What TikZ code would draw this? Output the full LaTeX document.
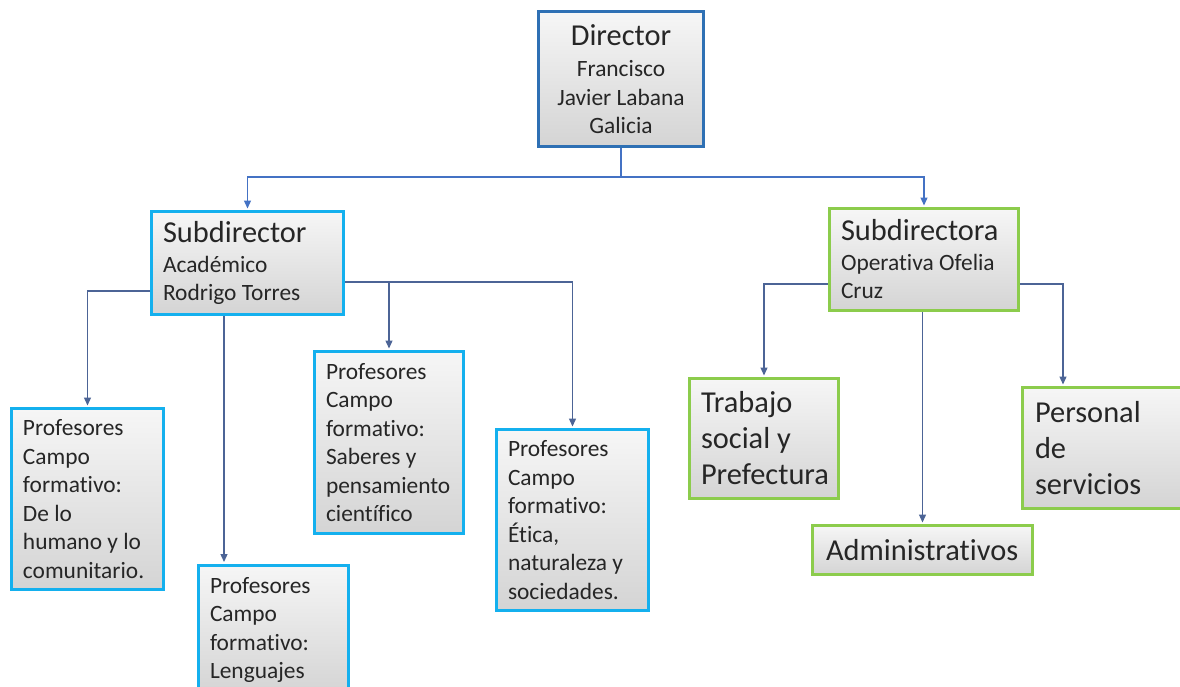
\documentclass[tikz,border=0pt]{standalone}
\usepackage{fontspec}
\setmainfont{Carlito}[Ligatures=NoCommon]
\usetikzlibrary{arrows.meta,shadows}

\definecolor{dirblue}{RGB}{46,112,180}
\definecolor{acadcyan}{RGB}{20,176,238}
\definecolor{opgreen}{RGB}{140,204,76}
\definecolor{boxtop}{RGB}{246,246,246}
\definecolor{boxbot}{RGB}{212,212,212}
\definecolor{linkblue}{RGB}{68,114,196}
\definecolor{linkslate}{RGB}{76,100,150}

\newcommand{\txtsmall}{\fontsize{23.4}{28.5}\selectfont}
\newcommand{\txtbig}{\fontsize{30.4}{36}\selectfont}

\begin{document}
\begin{tikzpicture}[x=1pt,y=-1pt,
  box/.style={draw,line width=3pt,top color=boxtop,bottom color=boxbot,
    text=black!85,inner sep=0pt,align=flush left,
    drop shadow={shadow xshift=1.5pt,shadow yshift=-1.5pt,opacity=0.2}},
  acad/.style={box,draw=acadcyan,font=\txtsmall},
  oper/.style={box,draw=opgreen,font=\txtbig},
  link/.style={line width=1.3pt,shorten >=1.5pt,-{Triangle[length=8pt,width=7pt]}}]

  \path[use as bounding box,clip] (0,0) rectangle (1180,686);
  \fill[white] (0,0) rectangle (1180,686);

  \node[box,draw=dirblue,align=flush center,font=\txtsmall,minimum width=165pt,minimum height=135pt] (dir) at (621,79)
    {{\txtbig Director}\\[3pt] Francisco\\ Javier Labana\\ Galicia};

  \node[acad,text width=169pt,minimum width=192pt,minimum height=103pt] (sa) at (247.5,263)
    {{\txtbig Subdirector}\\[1pt] Académico\\ Rodrigo Torres};
  \node[box,draw=opgreen,font=\txtsmall,text width=166pt,minimum width=189pt,minimum height=102pt] (so) at (924,259.5)
    {{\txtbig Subdirectora}\\[1pt] Operativa Ofelia\\ Cruz};

  \node[acad,text width=129pt,minimum width=152pt,minimum height=181pt] (p1) at (87.5,499)
    {Profesores\\ Campo\\ formativo:\\ De lo\\ humano y lo\\ comunitario.};
  \node[acad,text width=127pt,minimum width=150pt,inner ysep=12pt,anchor=north] (p2) at (273.5,563.5)
    {Profesores\\ Campo\\ formativo:\\ Lenguajes};
  \node[acad,text width=126pt,minimum width=149pt,minimum height=182pt] (p3) at (389,442.5)
    {Profesores\\ Campo\\ formativo:\\ Saberes y\\ pensamiento\\ científico};
  \node[acad,text width=129pt,minimum width=152pt,minimum height=181pt] (p4) at (572.5,520)
    {Profesores\\ Campo\\ formativo:\\ Ética,\\ naturaleza y\\ sociedades.};

  \node[oper,text width=126pt,minimum width=149pt,minimum height=120pt] (ts) at (764,438.5)
    {Trabajo\\ social y\\ Prefectura};
  \node[oper,text width=193pt,minimum width=220pt,minimum height=49pt] (adm) at (922.5,550)
    {Administrativos};
  \node[oper,text width=136pt,minimum width=161pt,minimum height=121pt] (ps) at (1103,448)
    {Personal\\ de\\ servicios};

  \draw[link,linkblue] (dir.south) -- ++(0,29) -| (sa.north);
  \draw[link,linkblue] (dir.south) -- ++(0,29) -| (so.north);

  \draw[link,linkslate] ([yshift=-28pt]sa.west) -| (p1.north);
  \draw[link,linkslate] ([xshift=-23.5pt]sa.south) -- ([xshift=-23.5pt]sa.south |- p2.north);
  \draw[link,linkslate] ([yshift=-19pt]sa.east) -| (p3.north);
  \draw[link,linkslate] ([yshift=-19pt]sa.east) -| (p4.north);

  \draw[link,linkslate] ([yshift=-24.5pt]so.west) -| (ts.north);
  \draw[link,linkslate] (so.south -| adm.north) -- (adm.north);
  \draw[link,linkslate] ([yshift=-24.5pt]so.east) -| ([xshift=-40pt]ps.north);

\end{tikzpicture}
\end{document}
